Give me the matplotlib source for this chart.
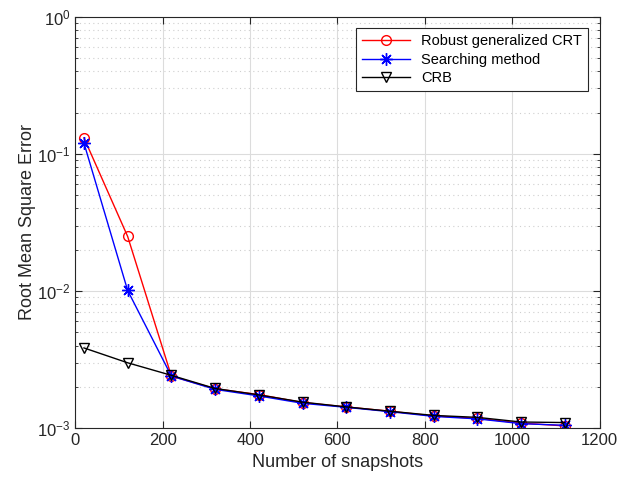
import matplotlib
matplotlib.use("Agg")
import matplotlib.pyplot as plt
from matplotlib.ticker import LogLocator, NullFormatter, FixedLocator

plt.rcParams["font.family"] = ["Liberation Sans", "DejaVu Sans"]

# data
snapshots = [20, 120, 220, 320, 420, 520, 620, 720, 820, 920, 1020, 1120]
rmse_crt = [0.131, 0.025, 0.0024, 0.00194, 0.00176, 0.00154, 0.00143, 0.00133, 0.00123, 0.00118, 0.00109, 0.00104]
rmse_search = [0.12, 0.0101, 0.0024, 0.00192, 0.00172, 0.00152, 0.00142, 0.00132, 0.00122, 0.00117, 0.00108, 0.00105]
crb = [0.00385, 0.003, 0.00243, 0.00195, 0.00175, 0.00155, 0.00143, 0.00133, 0.00124, 0.0012, 0.00111, 0.0011]

fig = plt.figure(figsize=(6.32, 4.79), dpi=100)
ax = fig.add_axes([0.119, 0.106, 0.830, 0.859])

ax.plot(snapshots, rmse_crt, color="red", lw=1, marker="o", ms=7, mfc="none", mec="red", mew=1,
        label="Robust generalized CRT")
ax.plot(snapshots, rmse_search, color="blue", lw=1, marker=(8, 2, 0), ms=9, mfc="none", mec="blue", mew=1,
        label="Searching method")
ax.plot(snapshots, crb, color="black", lw=1, marker="v", ms=7, mfc="none", mec="black", mew=1,
        label="CRB")

ax.set_yscale("log")
ax.set_xlim(0, 1200)
ax.set_ylim(1e-3, 1)
ax.xaxis.set_major_locator(FixedLocator([0, 200, 400, 600, 800, 1000, 1200]))
ax.yaxis.set_major_locator(LogLocator(base=10, numticks=10))
ax.yaxis.set_minor_locator(LogLocator(base=10, subs=range(2, 10), numticks=10))
ax.yaxis.set_minor_formatter(NullFormatter())

ax.grid(True, which="major", color="#dcdcdc", lw=0.8, ls="-")
ax.grid(True, which="minor", axis="y", color="#cfcfcf", lw=0.8, ls=(0, (1, 3)))
ax.set_axisbelow(True)

ax.tick_params(which="both", direction="in", top=True, right=True, labelsize=12, colors="#262626")
ax.tick_params(which="major", length=5)
ax.tick_params(which="minor", length=2.5)
for s in ax.spines.values():
    s.set_color("#262626")
    s.set_linewidth(0.8)

ax.set_xlabel("Number of snapshots", fontsize=13, color="#262626")
ax.set_ylabel("Root Mean Square Error", fontsize=13, color="#262626", labelpad=1)

leg = ax.legend(loc="upper right", fontsize=10.5, fancybox=False, framealpha=1,
                edgecolor="#262626", borderaxespad=0.8, handlelength=3.3,
                labelspacing=0.3, borderpad=0.4)
leg.get_frame().set_linewidth(0.8)

fig.savefig("out.png", dpi=100)
